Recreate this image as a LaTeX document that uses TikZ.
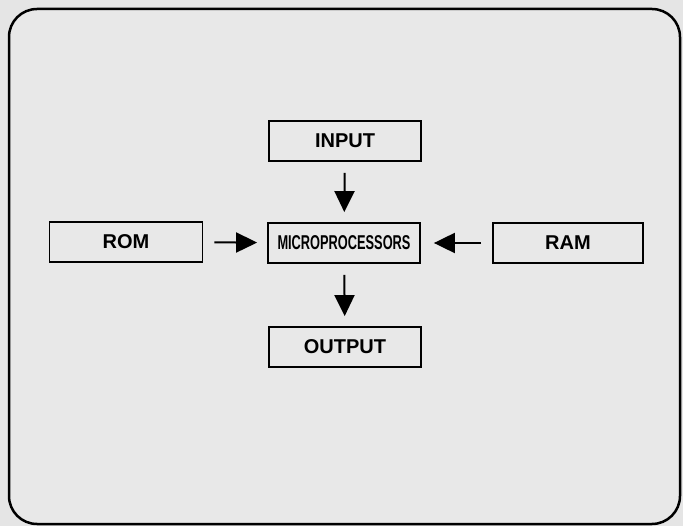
\documentclass[tikz,border=0pt]{standalone}
\usepackage{fontspec}
\setsansfont{Liberation Sans}
\usepackage{graphicx}
\usetikzlibrary{arrows.meta}

\tikzset{
  unit/.style={draw, line width=1.8pt, minimum width=152pt, minimum height=40pt,
    inner sep=0pt, font=\sffamily\bfseries\fontsize{20}{24}\selectfont},
  flow/.style={line width=2pt, -{Triangle[length=21pt,width=20pt]},
    shorten <=11pt, shorten >=10pt}
}

\begin{document}
\begin{tikzpicture}[x=1pt,y=-1pt]

% page and frame
\fill[black!10] (0,0) rectangle (683,526);
\useasboundingbox (0,0) rectangle (683,526);
\draw[line width=2.5pt, rounded corners=28pt, fill=black!9] (9,9) rectangle (680,524);

% units
\node[unit] (input)  at (345,141) {INPUT};
\node[unit] (micro)  at (344,243) {\scalebox{0.64}[1]{MICROPROCESSORS}};
\node[unit] (output) at (345,347) {OUTPUT};
\node[unit, minimum width=153pt] (rom) at (126,242) {ROM};
\node[unit, minimum width=150pt] (ram) at (568,243) {RAM};

% data paths
\draw[flow] (input) -- (micro);
\draw[flow] (micro) -- (output);
\draw[flow] (rom) -- (micro);
\draw[flow, shorten >=13pt] (ram) -- (micro);
\end{tikzpicture}
\end{document}
